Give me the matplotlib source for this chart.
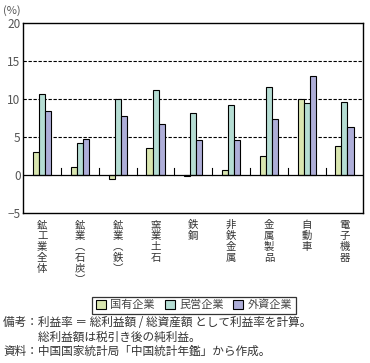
import numpy as np
import matplotlib
matplotlib.use('Agg')
import matplotlib.pyplot as plt

plt.rcParams['font.family'] = ['Noto Sans CJK JP', 'DejaVu Sans']

categories = ['鉱工業全体', '鉱業︵石炭︶', '鉱業︵鉄︶', '窯業土石', '鉄鋼',
              '非鉄金属', '金属製品', '自動車', '電子機器']
series = ['国有企業', '民営企業', '外資企業']
state = [3.0, 1.0, -0.5, 3.6, -0.1, 0.7, 2.5, 10.0, 3.8]
private = [10.6, 4.2, 9.9, 11.1, 8.1, 9.2, 11.5, 9.4, 9.6]
foreign = [8.4, 4.7, 7.7, 6.7, 4.6, 4.6, 7.3, 13.0, 6.3]
colors = ['#d9e6b0', '#b5ddd3', '#aeaed8']
txt = '#555555'

fig = plt.figure(figsize=(3.7, 3.63), dpi=100)
ax = fig.add_axes([0.063, 0.413, 0.919, 0.525])

x = np.arange(len(categories))
w = 0.16
for i, vals in enumerate([state, private, foreign]):
    ax.bar(x + (i - 1) * w, vals, w, color=colors[i], edgecolor='black',
           linewidth=0.8, label=series[i], zorder=3)

ax.set_xlim(-0.5, len(categories) - 0.5)
ax.set_ylim(-5, 20)
ax.set_yticks([-5, 0, 5, 10, 15, 20])
for v in [5, 10, 15]:
    ax.axhline(v, color='black', linestyle=(0, (3, 1.5)), linewidth=0.8, zorder=1)
ax.axhline(0, color='black', linewidth=0.9, zorder=4)
for b in np.arange(0.5, len(categories) - 0.5):
    ax.plot([b, b], [0, 0.9], color='black', linewidth=0.8, zorder=4)

ax.tick_params(axis='y', length=0, labelsize=8.5, colors=txt, pad=2)
ax.set_xticks([])
for s in ax.spines.values():
    s.set_linewidth(1.0)

for xi, c in zip(x, categories):
    ax.text(xi, -5.9, '\n'.join(c), ha='center', va='top', fontsize=7.5,
            color='#333333', linespacing=1.12)

fig.text(0.008, 0.985, '(%)', ha='left', va='top', fontsize=8, color=txt)

leg = ax.legend(loc='upper center', bbox_to_anchor=(194 / 370, 1 - 291 / 363),
                bbox_transform=fig.transFigure, ncol=3, fontsize=8,
                frameon=True, fancybox=False, edgecolor='black',
                handlelength=0.9, handleheight=0.9, handletextpad=0.4,
                columnspacing=0.9, borderpad=0.3, labelcolor='#444444')
leg.get_frame().set_linewidth(0.9)

notes = ['備考：利益率 ＝ 総利益額 / 総資産額 として利益率を計算。',
         '　　　総利益額は税引き後の純利益。',
         '資料：中国国家統計局「中国統計年鑑」から作成。']
for i, n in enumerate(notes):
    fig.text(0.008, 1 - (323 + 14 * i) / 363, n, ha='left', va='center',
             fontsize=8.4, color='#333333')

fig.savefig('out.png', dpi=100)
